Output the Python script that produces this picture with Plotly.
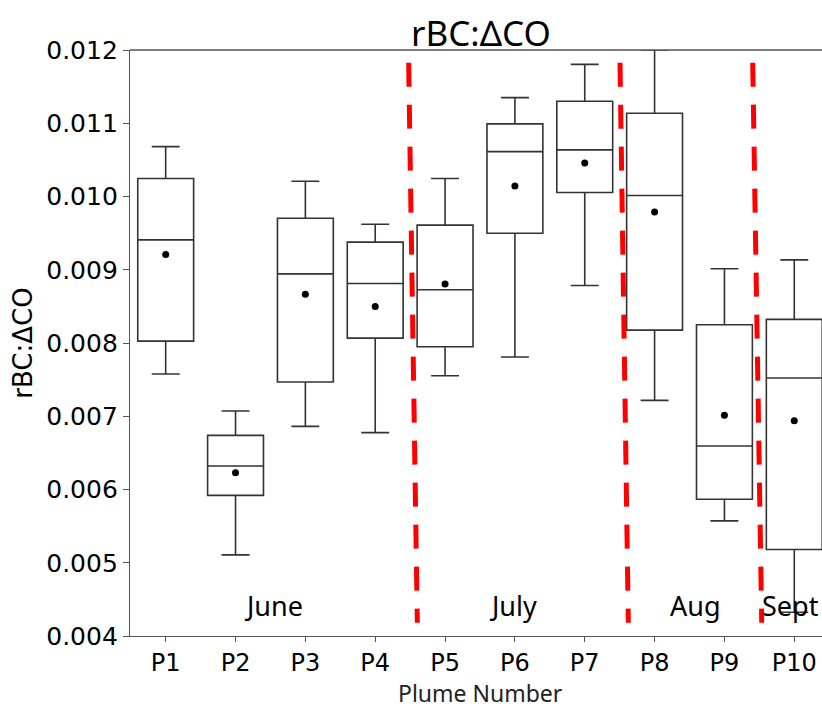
import plotly.graph_objects as go

# ---- data ----
plumes = ["P1", "P2", "P3", "P4", "P5", "P6", "P7", "P8", "P9", "P10"]
lower_whisker = [0.007576, 0.005107, 0.006862, 0.006776, 0.007553, 0.007808, 0.008785, 0.007217, 0.005571, 0.004324]
q1_vals = [0.008026, 0.005920, 0.007467, 0.008067, 0.007949, 0.009499, 0.010054, 0.008176, 0.005866, 0.005180]
medians = [0.009408, 0.006320, 0.008944, 0.008813, 0.008726, 0.010613, 0.010636, 0.010013, 0.006594, 0.007522]
q3_vals = [0.010245, 0.006739, 0.009704, 0.009377, 0.009609, 0.010991, 0.011300, 0.011136, 0.008249, 0.008322]
upper_whisker = [0.010681, 0.007071, 0.010209, 0.009622, 0.010245, 0.011350, 0.011804, 0.012000, 0.009013, 0.009135]
means = [0.009208, 0.006230, 0.008667, 0.008499, 0.008804, 0.010145, 0.010459, 0.009790, 0.007012, 0.006939]

# month divider lines (slightly slanted, as drawn in the original)
divider_x_top = [3.479, 6.505, 8.405]
divider_x_bottom = [3.603, 6.624, 8.534]
divider_y_top = 0.011827
divider_y_bottom = 0.00418

months = ["June", "July", "Aug", "Sept"]
month_x = [1.55, 4.97, 7.59, 8.94]
month_y = 0.00441

y_ticks = [0.004, 0.005, 0.006, 0.007, 0.008, 0.009, 0.010, 0.011, 0.012]

xs = list(range(len(plumes)))

fig = go.Figure()
fig.add_trace(go.Box(
    x=xs, q1=q1_vals, median=medians, q3=q3_vals,
    lowerfence=lower_whisker, upperfence=upper_whisker,
    width=0.8, whiskerwidth=0.5,
    fillcolor="white", line=dict(color="#333", width=1.6),
    boxpoints=False, showlegend=False, hoverinfo="skip",
))
fig.add_trace(go.Scatter(
    x=xs, y=means, mode="markers",
    marker=dict(color="black", size=7), showlegend=False, hoverinfo="skip",
))

for xt, xb in zip(divider_x_top, divider_x_bottom):
    fig.add_shape(type="line", xref="x", yref="y",
                  x0=xt, y0=divider_y_top, x1=xb, y1=divider_y_bottom,
                  line=dict(color="red", width=5, dash="24px,18px"))

# top spine
fig.add_shape(type="line", xref="paper", yref="paper", x0=0, x1=1, y0=1, y1=1,
              line=dict(color="#555", width=1.3))

for m, mx in zip(months, month_x):
    fig.add_annotation(x=mx, y=month_y, xref="x", yref="y", text=m, showarrow=False,
                       font=dict(family="Noto Sans", size=27, color="black"),
                       xanchor="center", yanchor="middle")

fig.add_annotation(text="rBC:ΔCO", xref="paper", yref="paper",
                   x=(481 - 130) / 692, y=1 + 18 / 586.5, showarrow=False,
                   font=dict(family="Noto Sans", size=35, color="black"),
                   xanchor="center", yanchor="middle")
fig.add_annotation(text="Plume Number", xref="paper", yref="paper",
                   x=(480 - 130) / 692, y=-(694 - 636.5) / 586.5, showarrow=False,
                   font=dict(family="Noto Sans", size=23, color="#222"),
                   xanchor="center", yanchor="middle", borderpad=0)
fig.add_annotation(text="rBC:ΔCO", xref="paper", yref="paper",
                   x=-(130 - 23) / 692, y=(636.5 - 344) / 586.5, showarrow=False,
                   textangle=-90,
                   font=dict(family="DejaVu Sans", size=26, color="black"),
                   xanchor="center", yanchor="middle")

fig.update_layout(
    width=822, height=708,
    margin=dict(l=130, r=0, t=50, b=71.5),
    plot_bgcolor="white", paper_bgcolor="white",
    xaxis=dict(range=[-0.511, 9.397], tickvals=xs, ticktext=plumes,
               showgrid=False, zeroline=False, showline=True, linecolor="#555", linewidth=1.3,
               ticks="outside", ticklen=5, tickcolor="#555",
               tickfont=dict(family="DejaVu Sans", size=24, color="black")),
    yaxis=dict(range=[0.004, 0.012], tickvals=y_ticks,
               ticktext=[f"{v:.3f}" for v in y_ticks],
               showgrid=False, zeroline=False, showline=True, linecolor="#555", linewidth=1.3,
               ticks="outside", ticklen=6, tickcolor="#555",
               tickfont=dict(family="DejaVu Sans", size=25, color="black")),
)

fig.write_html("out.html", config={"displayModeBar": False})

# remove the default page margin so the figure sits at the window's top-left corner
with open("out.html", "r", encoding="utf-8") as f:
    html = f.read()
html = html.replace("<head>", "<head><style>html,body{margin:0;padding:0;overflow:hidden;}</style>", 1)
with open("out.html", "w", encoding="utf-8") as f:
    f.write(html)
